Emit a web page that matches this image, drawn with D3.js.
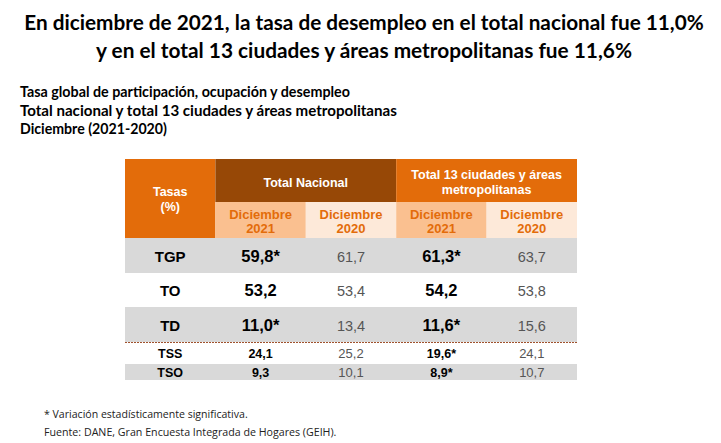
<!DOCTYPE html>
<html><head><meta charset="utf-8">
<script src="https://cdn.jsdelivr.net/npm/d3@7"></script>
<style>body{margin:0;background:#fff}svg{display:block}</style>
</head><body>
<svg id="c" width="721" height="443"></svg>
<script>
const titleLines = ["En diciembre de 2021, la tasa de desempleo en el total nacional fue 11,0%",
                    "y en el total 13 ciudades y áreas metropolitanas fue 11,6%"];
const subtitleLines = ["Tasa global de participación, ocupación y desempleo",
                       "Total nacional y total 13 ciudades y áreas metropolitanas",
                       "Diciembre (2021-2020)"];
const footLines = ["* Variación estadísticamente significativa.",
                   "Fuente: DANE, Gran Encuesta Integrada de Hogares (GEIH)."];
const categories = ["TGP","TO","TD","TSS","TSO"];
const nac2021 = [59.8, 53.2, 11.0, 24.1, 9.3];
const nac2020 = [61.7, 53.4, 13.4, 25.2, 10.1];
const ciu2021 = [61.3, 54.2, 11.6, 19.6, 8.9];
const ciu2020 = [63.7, 53.8, 15.6, 24.1, 10.7];
const sigNac2021 = [true, false, true, false, false];
const sigCiu2021 = [true, false, true, true, true];
const groupLabels = [["Total Nacional"], ["Total 13 ciudades y áreas", "metropolitanas"]];
const subLabels = [["Diciembre","2021"],["Diciembre","2020"],["Diciembre","2021"],["Diciembre","2020"]];

const svg = d3.select("#c");
const ORANGE = "#E36C0A", BROWN = "#974806", LIGHT1 = "#FAC090", LIGHT2 = "#FDE9D9", GRAY = "#D9D9D9";
const fmt = v => d3.format(".1f")(v).replace(".", ",");

// fit text to a target width by adjusting font size (keeps natural glyph shapes)
function fitText(sel, target, baseSize) {
  const n = sel.node().getComputedTextLength();
  sel.attr("font-size", Math.min(baseSize * 1.15, baseSize * target / n));
}

// Titles
const tFont = "Lato, 'Open Sans', sans-serif";
[[titleLines[0], 30, 680], [titleLines[1], 58, 536]].forEach(([t, y, w]) => {
  const s = svg.append("text").attr("x", 364).attr("y", y).attr("text-anchor", "middle")
    .attr("font-family", tFont).attr("font-weight", 700).attr("font-size", 22)
    .attr("fill", "#000").text(t);
  fitText(s, w, 22);
});
[[subtitleLines[0], 97, 330], [subtitleLines[1], 116, 377], [subtitleLines[2], 134, 147]].forEach(([t, y, w]) => {
  const s = svg.append("text").attr("x", 20).attr("y", y)
    .attr("font-family", tFont).attr("font-weight", 700).attr("font-size", 14.5)
    .attr("fill", "#000").text(t);
  fitText(s, w, 14.5);
});
[[footLines[0], 418, 204], [footLines[1], 436, 293]].forEach(([t, y, w]) => {
  const s = svg.append("text").attr("x", 44).attr("y", y)
    .attr("font-family", "'Open Sans', sans-serif").attr("font-size", 11)
    .attr("fill", "#222").text(t);
  fitText(s, w, 11);
});

// Table layout
const cols = ["label","n21","n20","c21","c20"];
const x = d3.scaleBand().domain(cols).range([125, 577]);
const rowH = [35, 34, 35, 22, 16];
const top0 = 238;
const rowTop = rowH.map((h, i) => top0 + d3.sum(rowH.slice(0, i)));
const y = d3.scaleOrdinal().domain(categories).range(rowTop);
const hY = d3.scaleLinear().domain([0, 1, 2]).range([159, 202, 238]);
const tabFont = "'Liberation Sans', Arial, sans-serif";

// Header
svg.append("rect").attr("x", x("label")).attr("y", hY(0)).attr("width", x.bandwidth()).attr("height", hY(2) - hY(0)).attr("fill", ORANGE);
svg.append("text").attr("x", x("label") + x.bandwidth()/2).attr("y", 196).attr("text-anchor","middle")
  .attr("font-family", tabFont).attr("font-weight",700).attr("font-size",12.5).attr("fill","#fff").text("Tasas");
svg.append("text").attr("x", x("label") + x.bandwidth()/2).attr("y", 211).attr("text-anchor","middle")
  .attr("font-family", tabFont).attr("font-weight",700).attr("font-size",12.5).attr("fill","#fff").text("(%)");

const groups = [["n21","n20"],["c21","c20"]];
groups.forEach((g, gi) => {
  const gx = x(g[0]), gw = x(g[1]) + x.bandwidth() - gx;
  svg.append("rect").attr("x", gx).attr("y", hY(0)).attr("width", gw).attr("height", hY(1) - hY(0)).attr("fill", gi === 0 ? BROWN : ORANGE);
  const lines = groupLabels[gi];
  lines.forEach((l, li) => {
    const cy = lines.length === 1 ? 187 : 179 + li * 15;
    svg.append("text").attr("x", gx + gw/2).attr("y", cy).attr("text-anchor","middle")
      .attr("font-family", tabFont).attr("font-weight",700).attr("font-size",12.5).attr("fill","#fff").text(l);
  });
});
["n21","n20","c21","c20"].forEach((c, ci) => {
  svg.append("rect").attr("x", x(c)).attr("y", hY(1)).attr("width", x.bandwidth()).attr("height", hY(2) - hY(1))
    .attr("fill", ci % 2 === 0 ? LIGHT1 : LIGHT2);
  subLabels[ci].forEach((l, li) => {
    svg.append("text").attr("x", x(c) + x.bandwidth()/2).attr("y", 219 + li * 14).attr("text-anchor","middle")
      .attr("font-family", tabFont).attr("font-weight",700).attr("font-size",13).attr("fill", ORANGE).text(l);
  });
});

// Body rows
categories.forEach((cat, i) => {
  const ry = y(cat), h = rowH[i];
  if (i % 2 === 0) svg.append("rect").attr("x", x("label")).attr("y", ry).attr("width", x.range()[1] - x.range()[0]).attr("height", h).attr("fill", GRAY);
  const big = i < 3;
  const by = ry + h/2 + (big ? 6 : 4.5);
  const cx = c => x(c) + x.bandwidth()/2;
  svg.append("text").attr("x", cx("label")).attr("y", by).attr("text-anchor","middle")
    .attr("font-family", tabFont).attr("font-weight",700).attr("font-size", big ? 15 : 12.5).attr("fill","#000").text(cat);
  const cells = [
    ["n21", fmt(nac2021[i]) + (sigNac2021[i] ? "*" : ""), true],
    ["n20", fmt(nac2020[i]), false],
    ["c21", fmt(ciu2021[i]) + (sigCiu2021[i] ? "*" : ""), true],
    ["c20", fmt(ciu2020[i]), false]
  ];
  cells.forEach(([c, t, b]) => {
    svg.append("text").attr("x", cx(c)).attr("y", by).attr("text-anchor","middle")
      .attr("font-family", tabFont).attr("font-weight", b ? 700 : 400)
      .attr("font-size", big ? (b ? 16.5 : 14.5) : (b ? 12.5 : 13))
      .attr("fill", b ? "#000" : "#555").text(t);
  });
});
// dotted separator
svg.append("line").attr("x1", x.range()[0]).attr("x2", x.range()[1]).attr("y1", y("TSS") + 0.5).attr("y2", y("TSS") + 0.5)
  .attr("stroke", "#A0522D").attr("stroke-width", 1).attr("stroke-dasharray", "2,1");
</script>
</body></html>
